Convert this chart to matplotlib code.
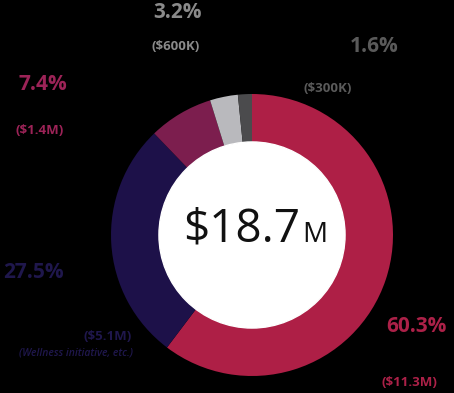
import matplotlib.pyplot as plt
from matplotlib.patches import Circle

# Budget split (clockwise from top)
shares = [60.3, 27.5, 7.4, 3.2, 1.6]
amounts = ['($11.3M)', '($5.1M)', '($1.4M)', '($600K)', '($300K)']
pct_labels = ['60.3%', '27.5%', '7.4%', '3.2%', '1.6%']
wedge_colors = ['#AE1F46', '#1D1149', '#7C1E4E', '#B9B9BD', '#4B4B4D']
text_colors = ['#AC2148', '#1F174C', '#9C2357', '#8A8A8A', '#5A5A5A']
note = '(Wellness initiative, etc.)'
total_main = r'\$18.7'
total_unit = 'M'

W, H = 454, 393
fig = plt.figure(figsize=(W / 100, H / 100), dpi=100)
fig.patch.set_facecolor('black')

# donut placed by pixel centre / radius
cx, cy, r = 252, 235, 141
ax = fig.add_axes([(cx - r) / W, (H - cy - r) / H, 2 * r / W, 2 * r / H])
ax.set_facecolor('black')
ax.pie(shares, colors=wedge_colors, startangle=90, counterclock=False,
       radius=1, wedgeprops=dict(width=0.34, linewidth=0))
ax.add_patch(Circle((0, 0), 0.66, color='white', zorder=5))
ax.set_xlim(-1, 1)
ax.set_ylim(-1, 1)
ax.axis('off')


def px(x, y):
    return x / W, 1 - y / H


bold = dict(family='Open Sans', fontweight='bold')

# (pct position, amount position) in pixels
pct_pos = [(416, 327), (33, 273), (43, 85), (177, 12), (374, 47)]
amt_pos = [(409, 382), (108, 337), (40, 131), (176, 47), (328, 89)]

for i in range(len(shares)):
    fig.text(*px(*pct_pos[i]), pct_labels[i], color=text_colors[i],
             fontsize=15, ha='center', va='center', **bold)
    fig.text(*px(*amt_pos[i]), amounts[i], color=text_colors[i],
             fontsize=9.5, ha='center', va='center', **bold)

fig.text(*px(133, 353), note, color=text_colors[1], fontsize=7.5,
         ha='right', va='center', family='Open Sans', fontweight='semibold',
         style='italic')

# centre total
fig.text(*px(183, 242), total_main, color='#111111', fontsize=33,
         ha='left', va='baseline', family='Open Sans', zorder=10)
fig.text(*px(302, 242), total_unit, color='#111111', fontsize=20,
         ha='left', va='baseline', family='Open Sans', zorder=10)

fig.savefig('out.png', dpi=100, facecolor=fig.get_facecolor())
